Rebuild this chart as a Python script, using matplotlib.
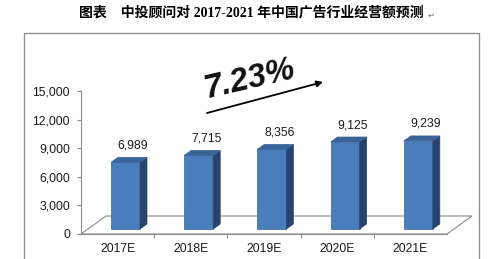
import matplotlib
matplotlib.use("Agg")
from matplotlib import pyplot as plt
from matplotlib.patches import Polygon, Rectangle

plt.rcParams['font.family'] = ['Liberation Sans', 'DejaVu Sans']

# data
years = ["2017E", "2018E", "2019E", "2020E", "2021E"]
values = [6989, 7715, 8356, 9125, 9239]
growth_label = "7.23%"
title = "图表    中投顾问对 2017-2021 年中国广告行业经营额预测"

W, H = 500, 259
fig = plt.figure(figsize=(W / 100, H / 100), dpi=100)

# outer frame of the pasted excel chart
fig.patches.append(Rectangle((24 / W, -0.1), (479 - 24) / W, 1.1 - 33 / H,
                             transform=fig.transFigure, fill=False,
                             edgecolor="#909090", lw=1.0))

ax = fig.add_axes([81 / W, (H - 234) / H, (447 - 81) / W, 143 / H])
ax.set_xlim(0, 5)
ax.set_ylim(0, 15000)

px_x = 5 / (447 - 81)      # data units per pixel
px_y = 15000 / 143

# floor of the 3d chart
fdx, fdy = 25 * px_x, 18 * px_y
ax.add_patch(Polygon([(0, 0), (fdx, fdy), (5 + fdx, fdy), (5, 0)], closed=True,
                     facecolor="white", edgecolor="#8c8c8c", lw=0.8,
                     clip_on=False, zorder=1))

base = 5 * px_y
bw = 29 * px_x
dx, dy = 7 * px_x, 5 * px_y
front_c, side_c, top_c = "#4a7dbb", "#27446e", "#3a6498"

for i, v in enumerate(values):
    x0 = i + 0.41
    top = base + v
    ax.add_patch(Rectangle((x0, base), bw, v, facecolor=front_c,
                           edgecolor="#3a6498", lw=0.5, clip_on=False, zorder=3))
    ax.add_patch(Polygon([(x0 + bw, base), (x0 + bw + dx, base + dy),
                          (x0 + bw + dx, top + dy), (x0 + bw, top)],
                         facecolor=side_c, edgecolor=side_c, lw=0.5,
                         clip_on=False, zorder=3))
    ax.add_patch(Polygon([(x0, top), (x0 + dx, top + dy), (x0 + bw + dx, top + dy),
                          (x0 + bw, top)],
                         facecolor=top_c, edgecolor=top_c, lw=0.5,
                         clip_on=False, zorder=3))
    ax.annotate(f"{v:,}", (i + 0.71, top + dy), xytext=(0, 6),
                textcoords="offset pixels", ha="center", va="bottom",
                fontsize=8.8, color="#1a1a1a")

for s in ["top", "right"]:
    ax.spines[s].set_visible(False)
for s in ["left", "bottom"]:
    ax.spines[s].set_color("#8c8c8c")
    ax.spines[s].set_linewidth(0.8)
ax.patch.set_alpha(0)

ax.set_yticks(range(0, 15001, 3000))
ax.set_yticklabels([f"{t:,}" for t in range(0, 15001, 3000)])
ax.tick_params(axis="y", length=3, width=0.8, color="#8c8c8c", pad=5,
               labelsize=8.8, labelcolor="#1a1a1a")
ax.set_xticks([i + 0.5 for i in range(5)])
ax.set_xticklabels(years)
ax.tick_params(axis="x", which="major", length=0, pad=6.5,
               labelsize=8.8, labelcolor="#1a1a1a")
ax.set_xticks(range(1, 5), minor=True)
ax.tick_params(axis="x", which="minor", length=3, width=0.8, color="#8c8c8c")

# growth rate annotation
fig.text(207 / W, 1 - 98 / H, growth_label, fontsize=23.5, style="italic",
         fontweight="bold", rotation=13, rotation_mode="anchor",
         ha="left", va="baseline", color="#111111")
ax.annotate("", xy=(323 / W, 1 - 82 / H), xytext=(207 / W, 1 - 113 / H),
            xycoords="figure fraction", textcoords="figure fraction",
            arrowprops=dict(arrowstyle="-|>", color="black", lw=1.3,
                            mutation_scale=9, shrinkA=0, shrinkB=0))

fig.text(251 / W, 1 - 13 / H, title, ha="center", va="center", fontsize=10,
         fontweight="bold",
         family=["Liberation Serif", "Noto Sans CJK SC", "DejaVu Sans"])
fig.text(428 / W, 1 - 15 / H, "↵", ha="left", va="center", fontsize=6,
         color="#808080", family=["DejaVu Sans"])

fig.savefig("out.png", dpi=100)
